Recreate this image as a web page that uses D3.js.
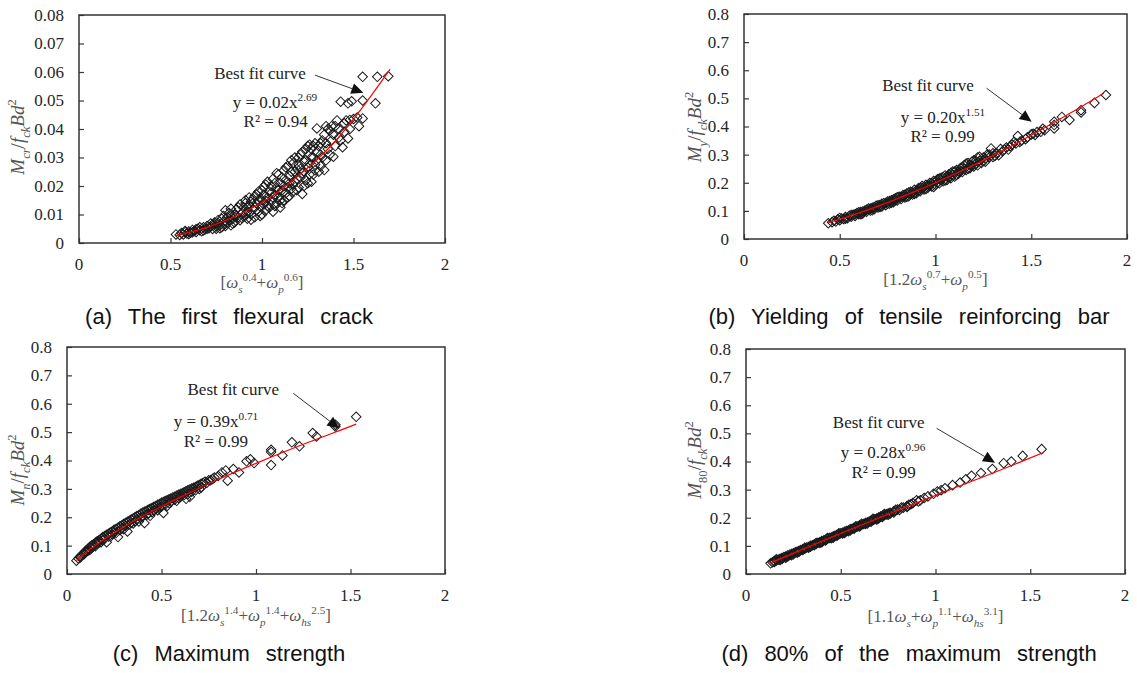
<!DOCTYPE html>
<html>
<head>
<meta charset="utf-8">
<script src="https://cdn.jsdelivr.net/npm/d3@7"></script>
<style>
  body { margin: 0; background: #fff; }
  svg { display: block; }
</style>
</head>
<body>
<svg id="chart" width="1137" height="673"></svg>
<script>
// ---------------- DATA ----------------
const xTicks = [0, 0.5, 1, 1.5, 2];
const yTicksA = [0, 0.01, 0.02, 0.03, 0.04, 0.05, 0.06, 0.07, 0.08];
const yTicksBCD = [0, 0.1, 0.2, 0.3, 0.4, 0.5, 0.6, 0.7, 0.8];

// (a) first flexural crack
const pointsA = [
  [0.53,0.0030],[0.55,0.0028],[0.56,0.0035],[0.57,0.0030],[0.58,0.0038],[0.58,0.0042],[0.59,0.0033],[0.60,0.0040],
  [0.60,0.0032],[0.61,0.0036],[0.62,0.0046],[0.62,0.0038],[0.63,0.0042],[0.64,0.0039],[0.64,0.0048],[0.65,0.0050],
  [0.66,0.0045],[0.66,0.0055],[0.67,0.0041],[0.68,0.0055],[0.68,0.0044],[0.69,0.0048],[0.70,0.0060],[0.70,0.0050],
  [0.71,0.0052],[0.72,0.0058],[0.72,0.0068],[0.73,0.0049],[0.74,0.0065],[0.74,0.0072],[0.75,0.0058],[0.75,0.0050],
  [0.76,0.0070],[0.76,0.0080],[0.77,0.0062],[0.77,0.0052],[0.78,0.0055],[0.78,0.0085],[0.79,0.0075],[0.79,0.0095],
  [0.80,0.0068],[0.80,0.0115],[0.80,0.0060],[0.81,0.0090],[0.81,0.0072],[0.82,0.0078],[0.82,0.0105],[0.83,0.0062],
  [0.83,0.0120],[0.83,0.0095],[0.84,0.0085],[0.84,0.0068],[0.85,0.0100],[0.85,0.0072],[0.86,0.0118],[0.86,0.0095],
  [0.87,0.0090],[0.87,0.0125],[0.88,0.0080],[0.88,0.0135],[0.89,0.0105],[0.89,0.0088],[0.90,0.0125],[0.90,0.0092],
  [0.91,0.0140],[0.91,0.0102],[0.91,0.0150],[0.92,0.0110],[0.92,0.0085],[0.92,0.0128],[0.93,0.0130],[0.93,0.0160],
  [0.94,0.0100],[0.94,0.0145],[0.94,0.0082],[0.95,0.0155],[0.95,0.0118],[0.96,0.0090],[0.96,0.0125],[0.96,0.0165],
  [0.97,0.0140],[0.97,0.0170],[0.98,0.0110],[0.98,0.0150],[0.98,0.0180],[0.99,0.0128],[0.99,0.0095],[1.00,0.0185],
  [1.00,0.0150],[1.00,0.0100],[1.01,0.0135],[1.01,0.0170],[1.01,0.0198],[1.02,0.0205],[1.02,0.0115],[1.02,0.0148],
  [1.03,0.0160],[1.03,0.0130],[1.03,0.0215],[1.04,0.0180],[1.04,0.0125],[1.05,0.0200],[1.05,0.0145],[1.05,0.0175],
  [1.06,0.0225],[1.06,0.0110],[1.06,0.0160],[1.07,0.0170],[1.07,0.0210],[1.07,0.0130],[1.08,0.0195],[1.08,0.0140],
  [1.08,0.0245],[1.09,0.0240],[1.09,0.0160],[1.09,0.0185],[1.10,0.0210],[1.10,0.0125],[1.10,0.0150],[1.11,0.0185],
  [1.11,0.0230],[1.11,0.0140],[1.12,0.0255],[1.12,0.0150],[1.12,0.0200],[1.13,0.0220],[1.13,0.0175],[1.13,0.0265],
  [1.14,0.0195],[1.14,0.0270],[1.14,0.0160],[1.15,0.0165],[1.15,0.0235],[1.15,0.0210],[1.16,0.0290],[1.16,0.0250],
  [1.16,0.0190],[1.17,0.0205],[1.17,0.0180],[1.17,0.0280],[1.18,0.0250],[1.18,0.0300],[1.18,0.0215],[1.19,0.0225],
  [1.19,0.0260],[1.19,0.0185],[1.20,0.0275],[1.20,0.0195],[1.20,0.0300],[1.21,0.0310],[1.21,0.0230],[1.21,0.0260],
  [1.22,0.0245],[1.22,0.0172],[1.22,0.0320],[1.23,0.0285],[1.23,0.0200],[1.23,0.0250],[1.24,0.0330],[1.24,0.0220],
  [1.24,0.0290],[1.25,0.0265],[1.25,0.0210],[1.25,0.0340],[1.26,0.0345],[1.26,0.0240],[1.26,0.0280],[1.27,0.0300],
  [1.27,0.0330],[1.27,0.0215],[1.28,0.0240],[1.28,0.0340],[1.28,0.0300],[1.29,0.0275],[1.29,0.0350],[1.29,0.0255],
  [1.30,0.0320],[1.30,0.0402],[1.30,0.0290],[1.31,0.0250],[1.31,0.0340],[1.32,0.0350],[1.32,0.0270],[1.32,0.0310],
  [1.33,0.0300],[1.33,0.0360],[1.34,0.0380],[1.34,0.0256],[1.35,0.0410],[1.35,0.0290],[1.35,0.0350],[1.36,0.0330],
  [1.36,0.0400],[1.37,0.0395],[1.37,0.0310],[1.38,0.0360],[1.38,0.0410],[1.39,0.0303],[1.39,0.0380],[1.40,0.0410],
  [1.40,0.0340],[1.41,0.0430],[1.42,0.0370],[1.42,0.0400],[1.43,0.0360],[1.44,0.0336],[1.45,0.0420],[1.45,0.0390],
  [1.46,0.0430],[1.47,0.0367],[1.48,0.0432],[1.48,0.0400],[1.50,0.0435],[1.52,0.0440],[1.53,0.0410],[1.55,0.0437],
  [1.43,0.0496],[1.47,0.0490],[1.49,0.0497],[1.55,0.0500],[1.62,0.0490],[1.55,0.0583],[1.63,0.0583],[1.69,0.0585]
];
const curveA = [[0.53,0.0026],[0.6,0.0037],[0.7,0.0055],[0.8,0.0079],[0.9,0.0108],[1.0,0.0142],[1.1,0.0185],
  [1.2,0.0237],[1.3,0.0292],[1.4,0.0357],[1.5,0.0435],[1.6,0.0520],[1.7,0.0610]];

// (b) yielding of tensile reinforcing bar
const pointsB = [
  [0.44,0.056],[0.46,0.060],[0.47,0.065],[0.48,0.062],[0.49,0.070],[0.50,0.067],[0.50,0.075],[0.51,0.073],
  [0.52,0.071],[0.53,0.078],[0.53,0.072],[0.54,0.074],[0.55,0.083],[0.56,0.079],[0.56,0.085],[0.57,0.086],
  [0.58,0.082],[0.58,0.088],[0.59,0.092],[0.60,0.088],[0.60,0.095],[0.61,0.096],[0.61,0.088],[0.62,0.091],
  [0.62,0.098],[0.63,0.100],[0.64,0.097],[0.64,0.104],[0.65,0.108],[0.66,0.101],[0.66,0.108],[0.67,0.111],
  [0.67,0.102],[0.68,0.106],[0.68,0.113],[0.69,0.118],[0.70,0.112],[0.70,0.120],[0.71,0.121],[0.71,0.114],
  [0.72,0.116],[0.72,0.125],[0.73,0.127],[0.74,0.120],[0.74,0.128],[0.75,0.133],[0.75,0.125],[0.76,0.126],
  [0.76,0.135],[0.77,0.138],[0.77,0.129],[0.78,0.131],[0.78,0.140],[0.79,0.145],[0.79,0.138],[0.80,0.137],
  [0.80,0.148],[0.81,0.150],[0.82,0.142],[0.82,0.150],[0.83,0.156],[0.83,0.150],[0.84,0.148],[0.84,0.157],
  [0.85,0.162],[0.85,0.150],[0.86,0.152],[0.86,0.165],[0.87,0.168],[0.87,0.160],[0.88,0.158],[0.88,0.165],
  [0.89,0.175],[0.89,0.160],[0.90,0.163],[0.90,0.172],[0.91,0.180],[0.91,0.172],[0.92,0.170],[0.92,0.182],
  [0.93,0.188],[0.93,0.180],[0.94,0.176],[0.94,0.185],[0.95,0.193],[0.95,0.178],[0.96,0.182],[0.96,0.190],
  [0.97,0.199],[0.97,0.190],[0.98,0.187],[0.98,0.198],[0.99,0.206],[0.99,0.185],[1.00,0.193],[1.00,0.205],
  [1.01,0.212],[1.01,0.200],[1.02,0.198],[1.02,0.215],[1.03,0.218],[1.03,0.210],[1.04,0.205],[1.04,0.220],
  [1.05,0.226],[1.05,0.208],[1.06,0.210],[1.06,0.222],[1.07,0.230],[1.07,0.220],[1.08,0.216],[1.08,0.235],
  [1.09,0.240],[1.09,0.228],[1.10,0.222],[1.10,0.240],[1.11,0.245],[1.11,0.228],[1.12,0.232],[1.12,0.240],
  [1.13,0.252],[1.13,0.242],[1.14,0.238],[1.14,0.255],[1.15,0.262],[1.15,0.250],[1.16,0.245],[1.16,0.268],
  [1.17,0.270],[1.17,0.250],[1.18,0.252],[1.18,0.262],[1.19,0.275],[1.19,0.262],[1.20,0.258],[1.20,0.280],
  [1.21,0.268],[1.21,0.278],[1.22,0.290],[1.22,0.262],[1.23,0.292],[1.23,0.278],[1.24,0.270],[1.25,0.278],
  [1.25,0.290],[1.26,0.285],[1.26,0.275],[1.27,0.300],[1.28,0.290],[1.28,0.300],[1.29,0.322],[1.30,0.292],
  [1.30,0.305],[1.31,0.295],[1.32,0.305],[1.33,0.298],[1.34,0.320],[1.35,0.312],[1.36,0.318],[1.37,0.325],
  [1.38,0.318],[1.39,0.330],[1.40,0.335],[1.41,0.345],[1.42,0.340],[1.43,0.366],[1.44,0.345],[1.45,0.350],
  [1.47,0.355],[1.48,0.362],[1.50,0.372],[1.51,0.374],[1.52,0.370],[1.53,0.380],[1.55,0.381],[1.56,0.392],
  [1.57,0.387],[1.62,0.417],[1.62,0.393],[1.62,0.405],[1.66,0.434],[1.70,0.423],[1.76,0.458],[1.76,0.450],
  [1.83,0.484],[1.89,0.512]
];
const curveB = [[0.44,0.058],[0.5,0.0704],[0.6,0.0925],[0.7,0.117],[0.8,0.143],[0.9,0.171],[1.0,0.200],
  [1.1,0.231],[1.2,0.263],[1.3,0.297],[1.4,0.332],[1.5,0.369],[1.6,0.407],[1.7,0.446],[1.8,0.486],[1.88,0.519]];

// (c) maximum strength
const pointsC = [
  [0.05,0.047],[0.06,0.055],[0.07,0.062],[0.07,0.058],[0.08,0.068],[0.09,0.075],[0.09,0.070],[0.10,0.082],
  [0.10,0.078],[0.11,0.088],[0.11,0.082],[0.12,0.095],[0.12,0.085],[0.13,0.100],[0.13,0.092],[0.14,0.104],
  [0.14,0.098],[0.15,0.110],[0.15,0.098],[0.16,0.115],[0.16,0.108],[0.17,0.119],[0.17,0.112],[0.18,0.124],
  [0.18,0.112],[0.19,0.130],[0.19,0.120],[0.20,0.134],[0.20,0.125],[0.21,0.138],[0.21,0.112],[0.22,0.142],
  [0.22,0.132],[0.23,0.146],[0.23,0.132],[0.24,0.151],[0.24,0.140],[0.25,0.156],[0.25,0.147],[0.26,0.159],
  [0.26,0.145],[0.27,0.130],[0.27,0.163],[0.28,0.168],[0.28,0.155],[0.29,0.171],[0.29,0.160],[0.30,0.176],
  [0.30,0.158],[0.31,0.180],[0.31,0.170],[0.32,0.184],[0.32,0.150],[0.33,0.188],[0.33,0.175],[0.34,0.192],
  [0.34,0.180],[0.35,0.196],[0.35,0.178],[0.36,0.200],[0.36,0.186],[0.37,0.204],[0.37,0.192],[0.38,0.207],
  [0.38,0.185],[0.39,0.212],[0.39,0.198],[0.40,0.216],[0.40,0.202],[0.41,0.219],[0.41,0.180],[0.42,0.222],
  [0.42,0.208],[0.43,0.226],[0.43,0.212],[0.44,0.230],[0.44,0.205],[0.45,0.233],[0.45,0.218],[0.46,0.237],
  [0.46,0.225],[0.47,0.240],[0.47,0.228],[0.48,0.244],[0.48,0.225],[0.49,0.247],[0.49,0.234],[0.50,0.251],
  [0.50,0.238],[0.51,0.215],[0.51,0.254],[0.52,0.257],[0.52,0.245],[0.53,0.260],[0.53,0.240],[0.54,0.263],
  [0.54,0.250],[0.55,0.266],[0.55,0.255],[0.56,0.270],[0.57,0.272],[0.57,0.262],[0.58,0.276],[0.58,0.258],
  [0.59,0.279],[0.59,0.268],[0.60,0.282],[0.60,0.272],[0.61,0.285],[0.62,0.288],[0.62,0.278],[0.63,0.265],
  [0.63,0.292],[0.64,0.295],[0.64,0.282],[0.65,0.298],[0.65,0.272],[0.66,0.301],[0.66,0.290],[0.67,0.304],
  [0.68,0.307],[0.68,0.295],[0.69,0.311],[0.70,0.314],[0.70,0.300],[0.71,0.318],[0.71,0.305],[0.72,0.321],
  [0.73,0.325],[0.74,0.322],[0.75,0.330],[0.76,0.330],[0.77,0.335],[0.78,0.340],[0.80,0.345],[0.82,0.358],
  [0.84,0.365],[0.85,0.329],[0.88,0.370],[0.91,0.358],[0.95,0.397],[0.97,0.404],[0.99,0.391],[1.08,0.438],
  [1.08,0.430],[1.08,0.384],[1.14,0.418],[1.19,0.464],[1.23,0.450],[1.30,0.497],[1.32,0.485],[1.42,0.526],
  [1.42,0.520],[1.53,0.554]
];
const curveC = [[0.05,0.047],[0.1,0.076],[0.2,0.124],[0.3,0.166],[0.4,0.2035],[0.5,0.238],[0.6,0.271],
  [0.8,0.333],[1.0,0.390],[1.2,0.444],[1.4,0.495],[1.53,0.528]];

// (d) 80% of the maximum strength
const pointsD = [
  [0.13,0.038],[0.14,0.042],[0.15,0.046],[0.15,0.043],[0.16,0.048],[0.16,0.052],[0.17,0.051],[0.18,0.054],
  [0.18,0.050],[0.19,0.057],[0.19,0.053],[0.20,0.060],[0.21,0.062],[0.21,0.058],[0.22,0.066],[0.22,0.062],
  [0.23,0.068],[0.24,0.071],[0.24,0.067],[0.25,0.074],[0.25,0.070],[0.26,0.077],[0.27,0.079],[0.27,0.076],
  [0.28,0.083],[0.28,0.079],[0.29,0.085],[0.30,0.088],[0.30,0.085],[0.31,0.090],[0.31,0.093],[0.32,0.094],
  [0.33,0.096],[0.33,0.093],[0.34,0.100],[0.34,0.097],[0.35,0.102],[0.36,0.105],[0.36,0.102],[0.37,0.107],
  [0.37,0.110],[0.38,0.111],[0.39,0.113],[0.39,0.110],[0.40,0.117],[0.40,0.113],[0.41,0.119],[0.42,0.122],
  [0.42,0.119],[0.43,0.125],[0.43,0.128],[0.44,0.128],[0.45,0.130],[0.45,0.127],[0.46,0.133],[0.46,0.129],
  [0.47,0.136],[0.48,0.139],[0.48,0.136],[0.49,0.141],[0.49,0.145],[0.50,0.145],[0.51,0.147],[0.51,0.144],
  [0.52,0.150],[0.52,0.146],[0.53,0.153],[0.54,0.155],[0.54,0.152],[0.55,0.159],[0.55,0.155],[0.56,0.161],
  [0.57,0.164],[0.57,0.161],[0.58,0.167],[0.58,0.170],[0.59,0.169],[0.60,0.173],[0.60,0.169],[0.61,0.175],
  [0.61,0.179],[0.62,0.178],[0.63,0.181],[0.63,0.178],[0.64,0.183],[0.64,0.180],[0.65,0.187],[0.66,0.189],
  [0.66,0.186],[0.67,0.192],[0.67,0.196],[0.68,0.195],[0.69,0.197],[0.69,0.194],[0.70,0.201],[0.70,0.197],
  [0.71,0.204],[0.72,0.207],[0.72,0.203],[0.73,0.210],[0.73,0.213],[0.74,0.212],[0.75,0.215],[0.75,0.211],
  [0.76,0.218],[0.76,0.214],[0.78,0.223],[0.78,0.219],[0.79,0.228],[0.80,0.229],[0.81,0.228],[0.82,0.236],
  [0.83,0.236],[0.85,0.242],[0.85,0.238],[0.86,0.246],[0.87,0.248],[0.88,0.252],[0.90,0.262],[0.91,0.258],
  [0.92,0.262],[0.94,0.270],[0.96,0.276],[0.99,0.285],[1.01,0.293],[1.03,0.298],[1.05,0.305],[1.09,0.316],
  [1.13,0.325],[1.16,0.337],[1.19,0.349],[1.24,0.359],[1.30,0.373],[1.36,0.394],[1.40,0.400],[1.46,0.420],
  [1.56,0.444]
];
const curveD = [[0.13,0.0395],[0.3,0.0882],[0.5,0.144],[0.7,0.199],[0.9,0.253],[1.1,0.306],[1.3,0.358],[1.57,0.432]];

// fit-label texts and captions
const fitEquations = [["0.02", "2.69", "0.94"], ["0.20", "1.51", "0.99"], ["0.39", "0.71", "0.99"], ["0.28", "0.96", "0.99"]];
const captions = ["(a) The first flexural crack", "(b) Yielding of tensile reinforcing bar",
  "(c) Maximum strength", "(d) 80% of the maximum strength"];

// axis titles as [text, kind]  kind: b=base, s=sub, p=sup ; i=italic, n=normal
const yTitles = [
  [["M","bi"],["cr","si"],["/","bn"],["f","bi"],["ck","si"],["Bd","bi"],["2","pn"]],
  [["M","bi"],["y","si"],["/","bn"],["f","bi"],["ck","si"],["Bd","bi"],["2","pn"]],
  [["M","bi"],["n","si"],["/","bn"],["f","bi"],["ck","si"],["Bd","bi"],["2","pn"]],
  [["M","bi"],["80","sn"],["/","bn"],["f","bi"],["ck","si"],["Bd","bi"],["2","pn"]]
];
const xTitles = [
  [["[","bn"],["ω","bi"],["s","si"],["0.4","pn"],["+","bn"],["ω","bi"],["p","si"],["0.6","pn"],["]","bn"]],
  [["[1.2","bn"],["ω","bi"],["s","si"],["0.7","pn"],["+","bn"],["ω","bi"],["p","si"],["0.5","pn"],["]","bn"]],
  [["[1.2","bn"],["ω","bi"],["s","si"],["1.4","pn"],["+","bn"],["ω","bi"],["p","si"],["1.4","pn"],["+","bn"],
   ["ω","bi"],["hs","si"],["2.5","pn"],["]","bn"]],
  [["[1.1","bn"],["ω","bi"],["s","si"],["+","bn"],["ω","bi"],["p","si"],["1.1","pn"],["+","bn"],
   ["ω","bi"],["hs","si"],["3.1","pn"],["]","bn"]]
];

// annotation anchors in data units: best-fit label, equation, R², arrow start, arrow tip
const annotations = [
  { best: [0.989, 0.0575], eq: [1.071, 0.0474], r2: [1.075, 0.0407], from: [1.290, 0.0589], to: [1.554, 0.0527] },
  { best: [0.961, 0.527], eq: [1.039, 0.412], r2: [1.037, 0.346], from: [1.267, 0.536], to: [1.502, 0.417] },
  { best: [0.880, 0.631], eq: [0.788, 0.519], r2: [0.788, 0.449], from: [1.197, 0.637], to: [1.441, 0.513] },
  { best: [0.700, 0.518], eq: [0.723, 0.411], r2: [0.726, 0.342], from: [1.006, 0.518], to: [1.314, 0.396] }
];

// ---------------- LAYOUT ----------------
const serif = "'Liberation Serif', 'Times New Roman', serif";
const panels = [
  { pts: pointsA, fit: curveA, yMax: 0.08, yTicks: yTicksA, box: [79, 445, 15, 243], yTitle: [18, 137], xTitleDy: 45 },
  { pts: pointsB, fit: curveB, yMax: 0.8, yTicks: yTicksBCD, box: [744, 1127, 14, 239], yTitle: [695, 127], xTitleDy: 46 },
  { pts: pointsC, fit: curveC, yMax: 0.8, yTicks: yTicksBCD, box: [67, 445, 347, 574], yTitle: [18, 470], xTitleDy: 47 },
  { pts: pointsD, fit: curveD, yMax: 0.8, yTicks: yTicksBCD, box: [746, 1125, 349, 574], yTitle: [695, 460], xTitleDy: 48 }
];

const svg = d3.select("#chart");

function rich(text, parts, size) {
  let shift = 0;
  parts.forEach(([t, k]) => {
    const pos = k[0] === "b" ? 0 : k[0] === "s" ? size * 0.3 : -size * 0.42;
    text.append("tspan")
      .text(t)
      .attr("dy", pos - shift)
      .style("font-style", k[1] === "i" ? "italic" : "normal")
      .style("font-size", (k[0] === "b" ? size : size * 0.66) + "px");
    shift = pos;
  });
}

const diamond = d3.symbol(d3.symbolSquare, 46);

panels.forEach((p, i) => {
  const [l, r, t, b] = p.box;
  const x = d3.scaleLinear().domain([0, 2]).range([l, r]);
  const y = d3.scaleLinear().domain([0, p.yMax]).range([b, t]);
  const g = svg.append("g");

  // axes (inside ticks)
  g.append("g").attr("transform", `translate(0,${b})`)
    .call(d3.axisBottom(x).tickValues(xTicks).tickSize(-5).tickFormat(""))
    .call(a => a.select(".domain").remove())
    .selectAll("line").attr("stroke", "#3a3a3a").attr("stroke-width", 1.2);
  g.append("g").attr("transform", `translate(${l},0)`)
    .call(d3.axisLeft(y).tickValues(p.yTicks).tickSize(-5).tickFormat(""))
    .call(a => a.select(".domain").remove())
    .selectAll("line").attr("stroke", "#3a3a3a").attr("stroke-width", 1.2);

  // tick labels
  g.selectAll(".xl").data(xTicks).join("text")
    .attr("x", d => x(d)).attr("y", b + 27)
    .attr("text-anchor", "middle")
    .style("font", `17px ${serif}`).attr("fill", "#262626")
    .text(d3.format("~g"));
  g.selectAll(".yl").data(p.yTicks).join("text")
    .attr("x", l - 15).attr("y", d => y(d)).attr("dy", "0.35em")
    .attr("text-anchor", "end")
    .style("font", `17px ${serif}`).attr("fill", "#262626")
    .text(d3.format("~g"));

  // frame
  g.append("rect").attr("x", l).attr("y", t).attr("width", r - l).attr("height", b - t)
    .attr("fill", "none").attr("stroke", "#333").attr("stroke-width", 1.5);

  // markers
  g.append("g").selectAll("path").data(p.pts).join("path")
    .attr("d", diamond)
    .attr("transform", d => `translate(${x(d[0])},${y(d[1])}) rotate(45)`)
    .attr("fill", "none").attr("stroke", "#1a1a1a").attr("stroke-width", 1);

  // fit curve
  g.append("path").datum(p.fit)
    .attr("d", d3.line().x(d => x(d[0])).y(d => y(d[1])).curve(d3.curveCatmullRom))
    .attr("fill", "none").attr("stroke", "#ff0000").attr("stroke-width", 1.2);

  // annotations
  const an = annotations[i];
  const eq = fitEquations[i];
  g.append("text").attr("x", x(an.best[0])).attr("y", y(an.best[1]))
    .attr("text-anchor", "middle").style("font", `17px ${serif}`).attr("fill", "#222")
    .text("Best fit curve");
  const eqText = g.append("text").attr("x", x(an.eq[0])).attr("y", y(an.eq[1]))
    .attr("text-anchor", "middle").style("font-family", serif).attr("fill", "#222");
  rich(eqText, [["y = " + eq[0] + "x", "bn"], [eq[1], "pn"]], 17);
  g.append("text").attr("x", x(an.r2[0])).attr("y", y(an.r2[1]))
    .attr("text-anchor", "middle").style("font", `17px ${serif}`).attr("fill", "#222")
    .text("R² = " + eq[2]);

  const x0 = x(an.from[0]), y0 = y(an.from[1]), x1 = x(an.to[0]), y1 = y(an.to[1]);
  const ang = Math.atan2(y1 - y0, x1 - x0);
  const hl = 12, hw = 5.5;
  const bx = x1 - hl * Math.cos(ang), by = y1 - hl * Math.sin(ang);
  g.append("line").attr("x1", x0).attr("y1", y0).attr("x2", bx).attr("y2", by)
    .attr("stroke", "#333").attr("stroke-width", 1);
  g.append("path")
    .attr("d", `M${x1},${y1}L${bx + hw * Math.sin(ang)},${by - hw * Math.cos(ang)}L${bx - hw * Math.sin(ang)},${by + hw * Math.cos(ang)}Z`)
    .attr("fill", "#111");

  // axis titles
  const xt = g.append("text").attr("x", (l + r) / 2).attr("y", b + p.xTitleDy)
    .attr("text-anchor", "middle").style("font-family", serif).attr("fill", "#555");
  rich(xt, xTitles[i], 17);
  const [tx, ty] = p.yTitle;
  const yt = g.append("text").attr("x", tx + 6).attr("y", ty)
    .attr("transform", `rotate(-90,${tx + 6},${ty})`)
    .attr("text-anchor", "middle").style("font-family", serif).attr("fill", "#555");
  rich(yt, yTitles[i], 19);

  // caption
  g.append("text").attr("x", i % 2 === 0 ? 229 : 909).attr("y", i < 2 ? 324 : 661)
    .attr("text-anchor", "middle")
    .style("font", "22px 'Liberation Sans', Arial, sans-serif").style("word-spacing", "10px")
    .attr("fill", "#111")
    .text(captions[i]);
});
</script>
</body>
</html>
